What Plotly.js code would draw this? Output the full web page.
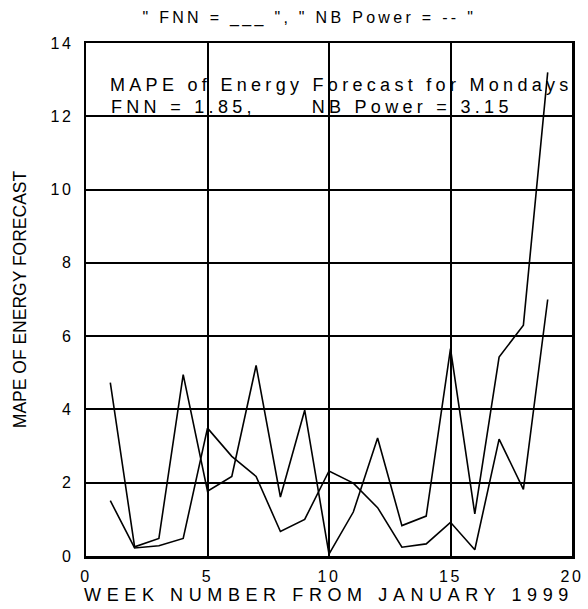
<!DOCTYPE html>
<html>
<head>
<meta charset="utf-8">
<script src="https://cdn.plot.ly/plotly-3.0.1.min.js"></script>
<style>
  html, body { margin: 0; padding: 0; background: #fff; }
  #chart { width: 588px; height: 609px; }
  .gtitle { letter-spacing: 3.3px; }
  .xtitle { letter-spacing: 5.6px; }
  .annotation-text { letter-spacing: 4.3px; }
  .xtick text, .ytick text { letter-spacing: 2.5px; }
</style>
</head>
<body>
<div id="chart"></div>
<script>
// Week numbers
const weeks = [1, 2, 3, 4, 5, 6, 7, 8, 9, 10, 11, 12, 13, 14, 15, 16, 17, 18, 19];
// MAPE of energy forecast (%), FNN model
const fnnMape = [1.51, 0.22, 0.28, 0.48, 3.49, 2.72, 2.17, 0.67, 1.0, 2.32, 1.99, 1.32, 0.24, 0.33, 0.92, 0.17, 3.19, 1.82, 7.0];
// MAPE of energy forecast (%), NB Power
const nbMape = [4.73, 0.25, 0.48, 4.95, 1.77, 2.17, 5.2, 1.61, 3.98, 0.05, 1.2, 3.22, 0.83, 1.09, 5.66, 1.15, 5.43, 6.3, 13.2];

const titleText = '" FNN = ___ ", " NB Power = -- "';
const xTitle = 'WEEK NUMBER FROM JANUARY 1999';
const yTitle = 'MAPE OF ENERGY FORECAST';
const noteLine1 = 'MAPE of Energy Forecast for Mondays';
const noteLine2 = 'FNN = 1.85,\u00a0\u00a0\u00a0\u00a0\u00a0\u00a0NB Power = 3.15';

const FONT = 'Liberation Sans, Arial, sans-serif';

const traces = [
  { x: weeks, y: fnnMape, name: 'FNN', mode: 'lines', line: { color: '#000', width: 1.6 } },
  { x: weeks, y: nbMape, name: 'NB Power', mode: 'lines', line: { color: '#000', width: 1.6 } }
];

const layout = {
  width: 588, height: 609,
  margin: { l: 86, r: 16, t: 43, b: 53 },
  paper_bgcolor: '#fff', plot_bgcolor: '#fff',
  showlegend: false,
  font: { family: FONT, color: '#000', size: 16 },
  title: {
    text: titleText,
    font: { family: FONT, size: 16, color: '#000' },
    xref: 'container', x: 0.526, xanchor: 'center',
    yref: 'container', y: 0.972, yanchor: 'middle'
  },
  xaxis: {
    range: [0, 20], dtick: 5, tick0: 0,
    showgrid: true, gridcolor: '#000', gridwidth: 2,
    zeroline: false,
    showline: true, linecolor: '#000', linewidth: 2.5, mirror: true,
    ticks: '', ticklabelstandoff: 4,
    tickfont: { family: FONT, size: 16, color: '#000' },
    title: { text: xTitle, font: { family: FONT, size: 18, color: '#000' }, standoff: 2 }
  },
  yaxis: {
    range: [0, 14], dtick: 2, tick0: 0,
    showgrid: true, gridcolor: '#000', gridwidth: 2,
    zeroline: false,
    showline: true, linecolor: '#000', linewidth: 2.5, mirror: true,
    ticks: '', ticklabelstandoff: 7,
    tickfont: { family: FONT, size: 16, color: '#000' },
    title: { text: yTitle, font: { family: FONT, size: 17.5, color: '#000' }, standoff: 20 }
  },
  annotations: [
    { text: noteLine1, xref: 'paper', yref: 'paper', x: 0.046, y: 0.919, xanchor: 'left', yanchor: 'middle',
      showarrow: false, font: { family: FONT, size: 18, color: '#000' } },
    { text: noteLine2, xref: 'paper', yref: 'paper', x: 0.048, y: 0.875, xanchor: 'left', yanchor: 'middle',
      showarrow: false, font: { family: FONT, size: 18, color: '#000' } }
  ]
};

Plotly.newPlot('chart', traces, layout, { staticPlot: true, displayModeBar: false });
</script>
</body>
</html>
